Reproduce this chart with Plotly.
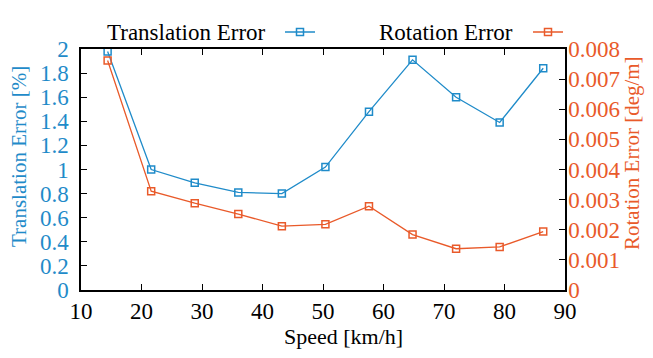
import plotly.graph_objects as go

speed = [14.4, 21.6, 28.8, 36.0, 43.2, 50.4, 57.6, 64.8, 72.0, 79.2, 86.4]
translation_error = [1.98, 1.00, 0.89, 0.81, 0.80, 1.02, 1.48, 1.91, 1.60, 1.39, 1.84]
rotation_error = [0.00762, 0.00328, 0.00288, 0.00252, 0.00212, 0.00218, 0.00278, 0.00184, 0.00137, 0.00143, 0.00194]
series_names = ["Translation Error", "Rotation Error"]
axis_titles = ["Speed [km/h]", "Translation Error [%]", "Rotation Error [deg/m]"]

BLUE = "#1f8bc9"
ORANGE = "#e95a2a"
FONT = "Liberation Serif"
L, R, T, B = 81, 88, 49, 68
PW = 653 - L - R
PH = 358 - T - B
LEG_Y = 1 + (T - 32) / PH


def px_x(p):
    return (p - L) / PW


def px_y(p):
    return (358 - B - p) / PH


fig = go.Figure()
fig.add_trace(go.Scatter(
    x=speed, y=translation_error, name=" ", mode="lines+markers",
    line=dict(color=BLUE, width=1.3),
    marker=dict(symbol="square-open", size=7, color=BLUE, line=dict(width=1.5)),
    yaxis="y", legend="legend",
))
fig.add_trace(go.Scatter(
    x=speed, y=rotation_error, name=" ", mode="lines+markers",
    line=dict(color=ORANGE, width=1.3),
    marker=dict(symbol="square-open", size=7, color=ORANGE, line=dict(width=1.5)),
    yaxis="y2", legend="legend2",
))

leg_common = dict(xanchor="left", yanchor="middle", y=LEG_Y, bgcolor="rgba(0,0,0,0)",
                  font=dict(size=10), itemwidth=30, borderwidth=0)

fig.update_layout(
    width=653, height=358,
    margin=dict(l=L, r=R, t=T, b=B, autoexpand=False),
    paper_bgcolor="white", plot_bgcolor="white",
    font=dict(family=FONT, size=21, color="black"),
    showlegend=True,
    legend=dict(x=px_x(280), **leg_common),
    legend2=dict(x=px_x(528), **leg_common),
    xaxis=dict(
        range=[10, 90], dtick=10, tick0=10,
        showline=True, linecolor="black", linewidth=1.5, mirror="ticks",
        ticks="inside", ticklen=6, tickcolor="black",
        showgrid=False, zeroline=False, automargin=False,
        tickfont=dict(family=FONT, size=23, color="black"),
    ),
    yaxis=dict(
        range=[0, 2], dtick=0.2, tick0=0,
        showline=True, linecolor="black", linewidth=1.5,
        ticks="inside", ticklen=6, tickcolor="black",
        showgrid=False, zeroline=False, automargin=False,
        ticklabelstandoff=6,
        tickfont=dict(family=FONT, size=23, color=BLUE),
    ),
    yaxis2=dict(
        range=[0, 0.008], dtick=0.001, tick0=0,
        overlaying="y", side="right", anchor="x",
        showline=True, linecolor="black", linewidth=1.5,
        ticks="inside", ticklen=6, tickcolor="black",
        showgrid=False, zeroline=False, automargin=False,
        ticklabelstandoff=-3,
        tickfont=dict(family=FONT, size=23, color=ORANGE),
    ),
    annotations=[
        dict(text=series_names[0], xref="paper", yref="paper", x=px_x(268), y=LEG_Y,
             xanchor="right", yanchor="middle", showarrow=False, font=dict(family=FONT, size=23, color="black")),
        dict(text=series_names[1], xref="paper", yref="paper", x=px_x(515), y=LEG_Y,
             xanchor="right", yanchor="middle", showarrow=False, font=dict(family=FONT, size=23, color="black")),
        dict(text=axis_titles[0], xref="paper", yref="paper", x=px_x(343), y=px_y(336),
             xanchor="center", yanchor="middle", showarrow=False, font=dict(family=FONT, size=22, color="black")),
        dict(text=axis_titles[1], xref="paper", yref="paper", x=px_x(19), y=px_y(157),
             xanchor="center", yanchor="middle", textangle=-90, showarrow=False,
             font=dict(family=FONT, size=21, color=BLUE)),
        dict(text=axis_titles[2], xref="paper", yref="paper", x=px_x(632), y=px_y(153),
             xanchor="center", yanchor="middle", textangle=-90, showarrow=False,
             font=dict(family=FONT, size=21, color=ORANGE)),
    ],
)

fig.write_html("out.html", config={"displayModeBar": False},
               post_script="document.body.style.margin='0';document.body.style.overflow='hidden';")
